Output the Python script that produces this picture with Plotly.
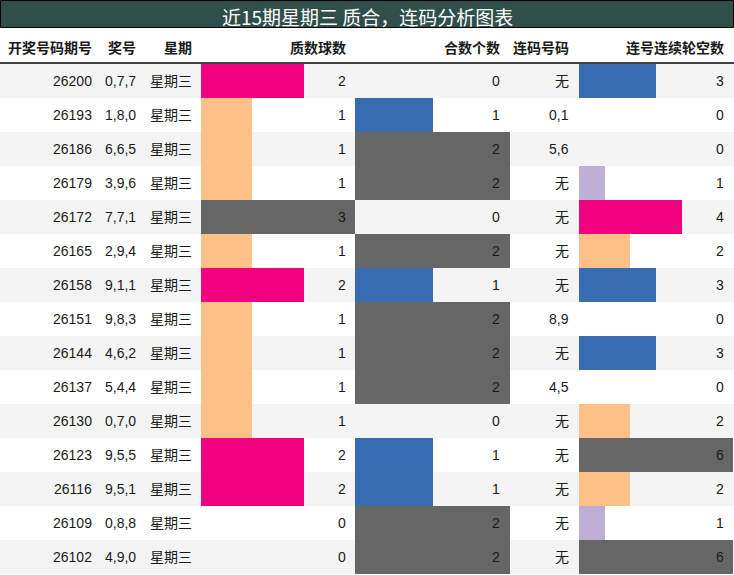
import plotly.graph_objects as go

W, H = 734, 575

title = "近15期星期三 质合，连码分析图表"
headers = ["开奖号码期号", "奖号", "星期", "质数球数", "合数个数", "连码号码", "连号连续轮空数"]
periods = ["26200", "26193", "26186", "26179", "26172", "26165", "26158", "26151",
           "26144", "26137", "26130", "26123", "26116", "26109", "26102"]
draws = ["0,7,7", "1,8,0", "6,6,5", "3,9,6", "7,7,1", "2,9,4", "9,1,1", "9,8,3",
         "4,6,2", "5,4,4", "0,7,0", "9,5,5", "9,5,1", "0,8,8", "4,9,0"]
weekday = ["星期三"] * 15
prime_cnt = [2, 1, 1, 1, 3, 1, 2, 1, 1, 1, 1, 2, 2, 0, 0]
comp_cnt = [0, 1, 2, 2, 0, 2, 1, 2, 2, 2, 0, 1, 1, 2, 2]
consec = ["无", "0,1", "5,6", "无", "无", "无", "无", "8,9", "无", "4,5", "无", "无", "无", "无", "无"]
gap_cnt = [3, 0, 0, 1, 4, 2, 3, 0, 3, 0, 2, 6, 2, 1, 6]

prime_colors = {1: "#fdc086", 2: "#f0027f", 3: "#666666"}
comp_colors = {1: "#386cb0", 2: "#666666"}
gap_colors = {1: "#beaed4", 2: "#fdc086", 3: "#386cb0", 4: "#f0027f", 6: "#666666"}

n = len(periods)
rows = list(range(n))

def px(x):
    return x / W

def py(y):
    return (H - y) / H

FONT = "Liberation Sans, Arial, Noto Sans CJK SC, sans-serif"
TXT = "#1a1a1a"

fig = go.Figure()

def add_bars(vals, cmap, xa):
    fig.add_trace(go.Bar(
        x=vals, y=rows, orientation="h", width=1,
        marker=dict(color=[cmap.get(v, "rgba(0,0,0,0)") for v in vals], line=dict(width=0)),
        xaxis=xa, yaxis="y", hoverinfo="skip", showlegend=False))

add_bars(prime_cnt, prime_colors, "x")
add_bars(comp_cnt, comp_colors, "x2")
add_bars(gap_cnt, gap_colors, "x3")

body_top, body_bot = 64, 574
ax_common = dict(visible=False, fixedrange=True)
fig.update_layout(
    width=W, height=H,
    margin=dict(l=0, r=0, t=0, b=0),
    paper_bgcolor="white", plot_bgcolor="rgba(0,0,0,0)",
    bargap=0, barmode="overlay",
    xaxis=dict(domain=[px(201), px(355)], range=[0, 3], anchor="y", **ax_common),
    xaxis2=dict(domain=[px(355), px(510)], range=[0, 2], anchor="y", **ax_common),
    xaxis3=dict(domain=[px(579), px(733)], range=[0, 6], anchor="y", **ax_common),
    yaxis=dict(domain=[py(body_bot), py(body_top)], range=[n - 0.5, -0.5], **ax_common),
    showlegend=False,
)

shapes = []
# row backgrounds
for i in rows:
    shapes.append(dict(type="rect", xref="paper", yref="y", x0=0, x1=1, y0=i - 0.5, y1=i + 0.5,
                       fillcolor="#f4f4f4" if i % 2 == 0 else "#ffffff", line=dict(width=0), layer="below"))
# title bar
shapes.append(dict(type="rect", xref="paper", yref="paper", x0=px(0.5), x1=px(733.5), y0=py(27.5), y1=py(0.5),
                   fillcolor="#2f4f4b", line=dict(color="black", width=1), layer="above"))
# header underline
shapes.append(dict(type="line", xref="paper", yref="paper", x0=0, x1=1, y0=py(63), y1=py(63),
                   line=dict(color="black", width=1.5)))
fig.update_layout(shapes=shapes)

ann = []
ann.append(dict(text=title, xref="paper", yref="paper", x=0.5, y=py(16), xanchor="center", yanchor="middle",
                showarrow=False, font=dict(family="Noto Sans CJK SC, Liberation Sans", size=19, color="white")))

col_right = [94, 138, 194, 348, 502, 571, 726]
for h, xr in zip(headers, col_right):
    ann.append(dict(text="<b>" + h + "</b>", xref="paper", yref="paper", x=px(xr), y=py(47),
                    xanchor="right", yanchor="middle", showarrow=False,
                    font=dict(family="Noto Sans CJK SC, Liberation Sans", size=14, color=TXT)))

cols = [periods, draws, weekday, [str(v) for v in prime_cnt], [str(v) for v in comp_cnt], consec,
        [str(v) for v in gap_cnt]]
for col, xr in zip(cols, col_right):
    for i, t in enumerate(col):
        ann.append(dict(text=t, xref="paper", yref="y", x=px(xr), y=i, xanchor="right", yanchor="middle",
                        showarrow=False, font=dict(family=FONT, size=14, color=TXT)))
fig.update_layout(annotations=ann)

fig.write_html("out.html", config={"displayModeBar": False},
               post_script="document.body.style.margin='0';document.body.style.padding='0';"
                           "document.documentElement.style.overflow='hidden';")
